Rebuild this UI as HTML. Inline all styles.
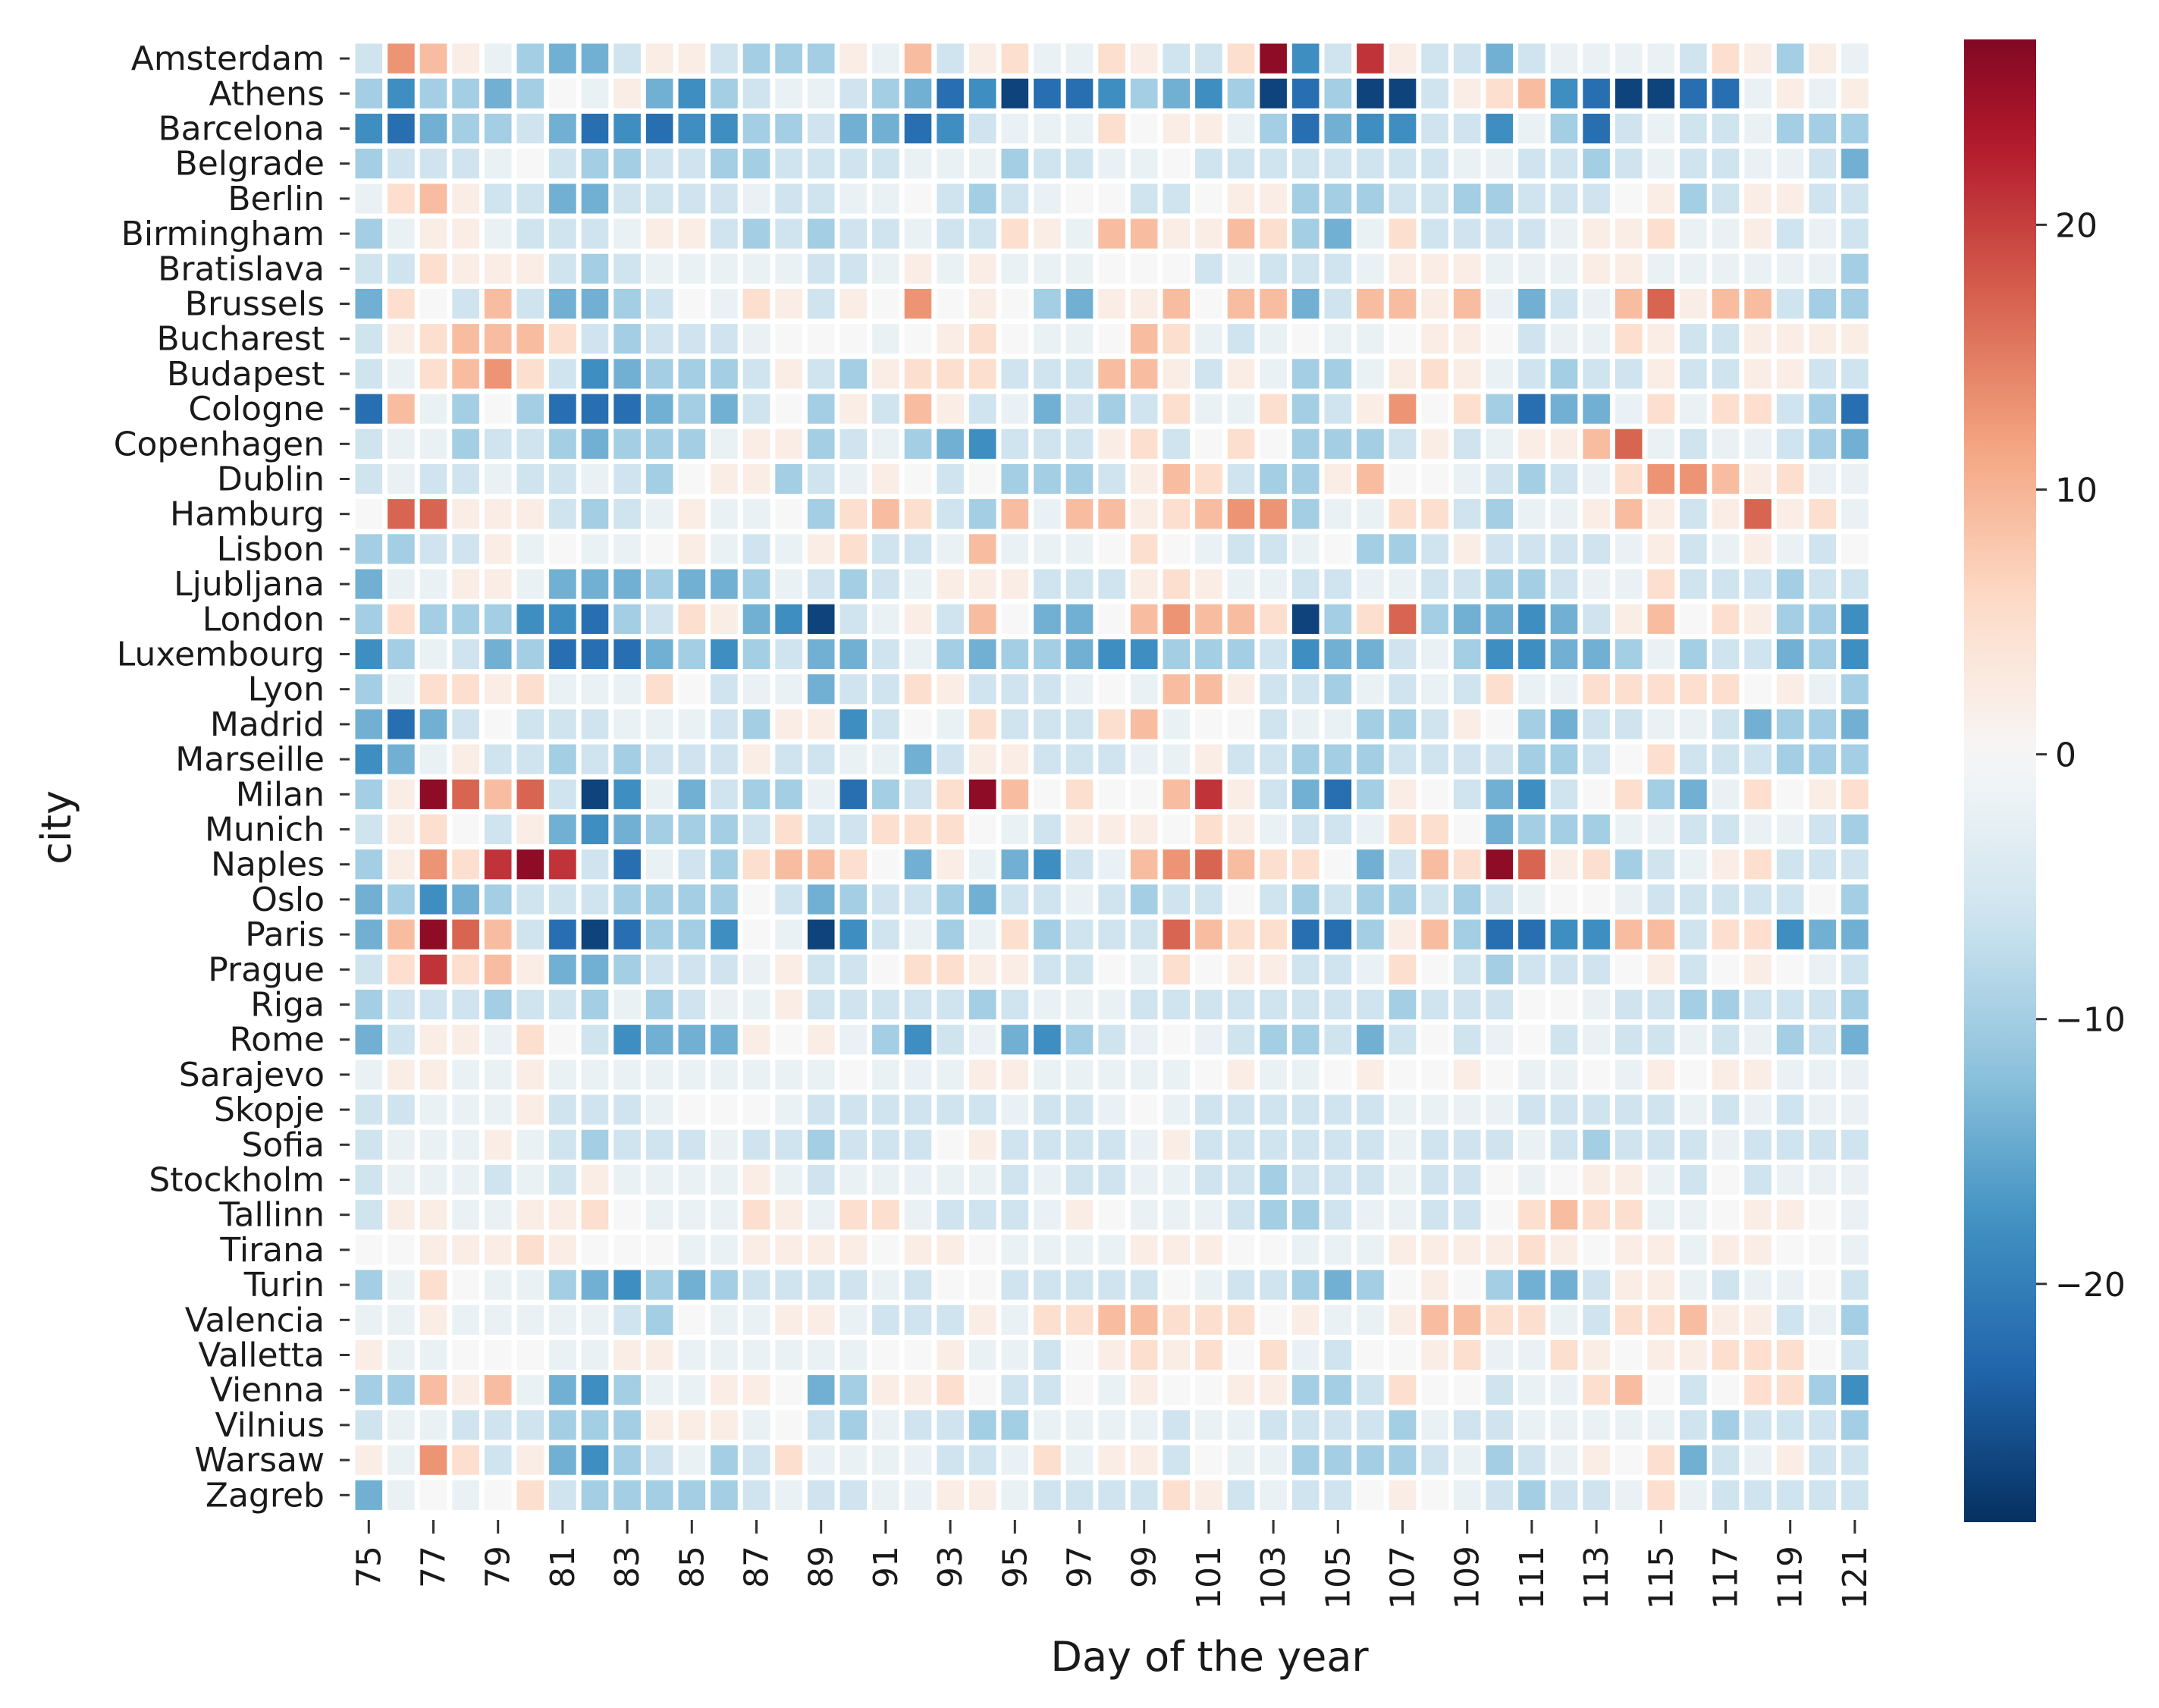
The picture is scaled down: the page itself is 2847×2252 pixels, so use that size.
<!DOCTYPE html>
<html><head><meta charset="utf-8"><title>City heatmap</title>
<style>
html,body{margin:0;padding:0;background:#fff;}
svg{display:block;font-family:"DejaVu Sans","Liberation Sans",sans-serif;}
</style></head>
<body>
<svg id="chart" width="2847" height="2252" viewBox="0 0 2847 2252" xmlns="http://www.w3.org/2000/svg">
<defs><linearGradient id="cbgrad" x1="0" y1="1" x2="0" y2="0"></linearGradient></defs>
<g id="cells"></g>
<g id="ylabels"></g>
<g id="xlabels"></g>
<text x="1595" y="2203" font-size="54" text-anchor="middle" fill="#1a1a1a">Day of the year</text>
<text transform="translate(93,1091) rotate(-90)" font-size="54" text-anchor="middle" fill="#1a1a1a">city</text>
<g id="colorbar"></g>
</svg>
<script>
const cities = ["Amsterdam","Athens","Barcelona","Belgrade","Berlin","Birmingham","Bratislava","Brussels","Bucharest","Budapest","Cologne","Copenhagen","Dublin","Hamburg","Lisbon","Ljubljana","London","Luxembourg","Lyon","Madrid","Marseille","Milan","Munich","Naples","Oslo","Paris","Prague","Riga","Rome","Sarajevo","Skopje","Sofia","Stockholm","Tallinn","Tirana","Turin","Valencia","Valletta","Vienna","Vilnius","Warsaw","Zagreb"];
const dayStart = 75;
const dayCount = 47;
const xTickLabels = ["75","77","79","81","83","85","87","89","91","93","95","97","99","101","103","105","107","109","111","113","115","117","119","121"];
const cbTicks = [20,10,0,-10,-20];
const cbMin = -29, cbMax = 27;
const values = [
[-6,13,9,2,-2,-10,-14,-14,-6,2,2,-6,-10,-10,-10,2,-2,9,-6,2,5,-2,-2,5,2,-6,-6,5,26,-18,-6,21,2,-6,-6,-14,-6,-2,-2,-2,-2,-6,5,2,-10,2,-2],
[-10,-18,-10,-10,-14,-10,0,-2,2,-14,-18,-10,-6,-2,-2,-6,-10,-14,-22,-18,-27,-22,-22,-18,-10,-14,-18,-10,-27,-22,-10,-27,-27,-6,2,5,9,-18,-22,-27,-27,-22,-22,-2,2,-2,2],
[-18,-22,-14,-10,-10,-6,-14,-22,-18,-22,-18,-18,-10,-10,-6,-14,-14,-22,-18,-6,-2,-2,-2,5,0,2,2,-2,-10,-22,-14,-18,-18,-6,-6,-18,-2,-10,-22,-6,-2,-6,-6,-2,-10,-10,-10],
[-10,-6,-6,-6,-2,0,-6,-10,-10,-6,-6,-10,-10,-6,-6,-6,-6,-2,-2,-2,-10,-6,-6,-2,-2,0,-6,-6,-6,-6,-6,-6,-6,-6,-2,-2,-6,-6,-10,-6,-2,-6,-6,-2,-2,-6,-14],
[-2,5,9,2,-6,-6,-14,-14,-6,-6,-6,-6,-2,-6,-6,-2,-2,0,-6,-10,-6,-2,0,0,-6,-6,0,2,2,-10,-10,-10,-6,-6,-10,-10,-6,-6,-6,0,2,-10,-6,2,2,-6,-6],
[-10,-2,2,2,-2,-6,-6,-6,-2,2,2,-6,-10,-6,-10,-6,-6,-2,-6,-6,5,2,-2,9,9,2,2,9,5,-10,-14,-2,5,-6,-6,-6,-6,-2,2,2,5,-2,-2,2,-6,-2,-6],
[-6,-6,5,2,2,2,-6,-10,-6,-2,-2,-2,-2,-2,-6,-6,-2,2,-2,2,-2,-2,-2,0,0,0,-6,-2,-6,-6,-6,-2,2,2,2,-2,-2,-2,2,2,-2,-2,-2,-2,-2,-2,-10],
[-14,5,0,-6,9,-6,-14,-14,-10,-6,0,-2,5,2,-6,2,0,13,0,2,0,-10,-14,2,2,9,0,9,9,-14,-6,9,9,2,9,-2,-14,-6,-2,9,17,2,9,9,-6,-10,-10],
[-6,2,5,9,9,9,5,-6,-10,-6,-6,-6,-2,0,0,0,-2,0,2,5,0,-2,-2,0,9,5,-2,-6,-2,0,-2,-2,0,2,2,0,-6,-2,-2,5,2,-6,-6,2,2,2,2],
[-6,-2,5,9,13,5,-6,-18,-14,-10,-10,-10,-6,2,-6,-10,2,5,5,5,-6,-6,-6,9,9,2,-6,2,-2,-10,-10,-2,2,5,2,-2,-6,-10,-6,-6,2,-6,-6,2,2,-6,-6],
[-22,9,-2,-10,0,-10,-22,-22,-22,-14,-10,-14,-6,0,-10,2,-6,9,2,-6,-2,-14,-6,-10,-6,5,-2,-2,5,-10,-6,2,13,0,5,-10,-22,-14,-14,-2,5,-2,5,5,-6,-10,-22],
[-6,-2,-2,-10,-6,-6,-10,-14,-10,-10,-10,-2,2,2,-10,-6,-2,-10,-14,-18,-6,-6,-6,2,5,-6,0,5,0,-10,-10,-10,-6,2,-6,-2,2,2,9,17,-2,-6,-2,-2,-6,-10,-14],
[-6,-2,-6,-6,-2,-6,-6,-2,-6,-10,0,2,2,-10,-6,-2,2,0,-6,0,-10,-10,-10,-6,2,9,5,-6,-10,-10,2,9,0,0,-2,-6,-10,-6,-2,5,13,13,9,2,5,-2,-2],
[0,17,17,2,2,2,-6,-10,-6,-2,2,-2,-2,0,-10,5,9,5,-6,-10,9,-2,9,9,2,5,9,13,13,-10,-2,-2,5,5,-6,-10,-2,-2,2,9,2,-6,2,17,2,5,-2],
[-10,-10,-6,-6,2,-2,0,-2,-2,0,2,-2,-6,-2,2,5,-6,-6,-2,9,-2,-2,-2,0,5,0,-2,-6,-6,-2,0,-10,-10,-6,2,-6,-6,-6,-6,-2,2,-6,-2,2,-2,-6,0],
[-14,-2,-2,2,2,-2,-14,-14,-14,-10,-14,-14,-10,-2,-6,-10,-6,-2,2,2,2,-6,-6,-6,2,5,2,-2,-2,-6,-6,-2,-2,-6,-6,-10,-10,-6,-2,-2,5,-6,-6,-6,-10,-6,-6],
[-10,5,-10,-10,-10,-18,-18,-22,-10,-6,5,2,-14,-18,-27,-6,-2,2,-6,9,0,-14,-14,0,9,13,9,9,5,-27,-10,5,17,-10,-14,-14,-18,-14,-6,2,9,0,5,2,-10,-10,-18],
[-18,-10,-2,-6,-14,-10,-22,-22,-22,-14,-10,-18,-10,-6,-14,-14,-6,-2,-10,-14,-10,-10,-14,-18,-18,-10,-10,-10,-6,-18,-14,-14,-6,-2,-10,-18,-18,-14,-14,-10,-2,-10,-6,-6,-14,-10,-18],
[-10,-2,5,5,2,5,-2,-2,-2,5,0,-6,-2,-2,-14,-6,-6,5,2,-6,-6,-6,-2,0,-2,9,9,2,-6,-6,-10,-2,-6,-2,-6,5,-2,-2,5,5,5,5,5,0,2,-2,-10],
[-14,-22,-14,-6,0,-6,-6,-6,-2,-2,-2,-6,-10,2,2,-18,-6,0,-2,5,-6,-6,-6,5,9,-2,0,0,-6,-2,-2,-10,-10,-6,2,0,-10,-14,-6,-6,-2,-2,-6,-14,-10,-10,-14],
[-18,-14,-2,2,-6,-6,-10,-6,-10,-6,-6,-6,2,-6,-6,-2,-2,-14,-6,2,2,-6,-6,-6,-2,-2,2,-6,-6,-10,-10,-10,-6,-6,-6,-6,-10,-10,-6,0,5,-6,-6,-6,-10,-10,-10],
[-10,2,26,17,9,17,-6,-27,-18,-2,-14,-6,-10,-10,-2,-22,-10,-6,5,26,9,0,5,0,0,9,21,2,-6,-14,-22,-10,2,0,-6,-14,-18,-6,0,5,-10,-14,-2,5,0,2,5],
[-6,2,5,0,-6,2,-14,-18,-14,-10,-10,-10,-6,5,-6,-6,5,5,5,0,-2,-6,2,2,2,0,5,2,-2,-6,-6,-2,5,5,0,-14,-10,-10,-10,-2,-2,-6,-6,-2,-2,-6,-10],
[-10,2,13,5,21,26,21,-6,-22,-2,-6,-10,5,9,9,5,0,-14,2,-2,-14,-18,-6,-2,9,13,17,9,5,5,0,-14,-6,9,5,26,17,2,5,-10,-6,-2,2,5,-6,-6,-6],
[-14,-10,-18,-14,-10,-6,-6,-6,-10,-10,-10,-10,0,-6,-14,-10,-6,-6,-10,-14,-6,-6,-2,-6,-10,-6,-6,0,-6,-10,-6,-10,-10,-6,-10,-6,-2,0,0,-2,-6,-6,-6,-6,-6,0,-10],
[-14,9,26,17,9,-6,-22,-27,-22,-10,-10,-18,0,-2,-27,-18,-6,-2,-10,-2,5,-10,-6,-6,-6,17,9,5,5,-22,-22,-10,2,9,-10,-22,-22,-18,-18,9,9,-6,5,5,-18,-14,-14],
[-6,5,21,5,9,2,-14,-14,-10,-6,-6,-6,-2,2,-6,-6,0,5,5,2,2,-6,-6,0,-2,5,0,2,2,-6,-6,-2,5,0,-6,-10,-6,-6,-6,0,2,-6,0,2,0,-2,-6],
[-10,-6,-6,-6,-10,-6,-6,-10,-2,-10,-6,-2,-2,2,-6,-6,-6,-6,-6,-10,-6,-2,-2,-2,-6,-6,-6,-6,-6,-6,-6,-6,-10,-6,-6,-6,0,0,-2,-6,-6,-10,-10,-6,-6,-6,-10],
[-14,-6,2,2,-2,5,0,-6,-18,-14,-14,-14,2,0,2,-2,-10,-18,-6,-2,-14,-18,-10,-6,-2,0,-2,-6,-10,-10,-6,-14,-6,0,-6,-2,0,-6,-2,-6,-6,-2,-6,-2,-10,-6,-14],
[-2,2,2,-2,-2,2,-2,-2,-2,-2,-2,-2,-2,-2,-2,0,-2,-2,-2,2,2,-2,-2,-2,-2,-2,0,2,-2,-2,0,2,0,0,2,0,-2,-2,0,-2,2,0,2,2,-2,-2,-2],
[-6,-6,-2,-2,-2,2,-6,-6,-6,-2,0,0,0,-2,-6,-6,-6,-6,-6,-6,-2,-6,-6,-2,0,-2,-6,-6,-6,-6,-6,-6,-2,-2,-2,-2,-6,-6,-6,-6,-6,-2,-6,-2,-6,-2,-2],
[-6,-2,-2,-2,2,-2,-6,-10,-6,-6,-6,-2,-6,-6,-10,-6,-6,-6,0,2,-6,-6,-6,-6,-2,2,-6,-6,-6,-6,-6,-6,-2,-6,-6,-6,-2,-6,-10,-6,-6,-6,-2,-6,-6,-6,-6],
[-6,-2,-2,-2,-6,-2,-6,2,-2,-2,-2,-2,2,-2,-6,-2,-2,-2,-2,-2,-6,-2,-6,-6,-2,-2,-6,-6,-10,-6,-6,-6,-2,-6,-6,0,-2,0,2,2,-2,-6,0,-6,-2,-2,-2],
[-6,2,2,-2,-2,2,2,5,0,-2,-2,-2,5,2,-2,5,5,-2,-6,-6,-6,-2,2,0,-2,-2,-2,-6,-10,-10,-6,-2,-2,-6,-6,0,5,9,5,5,-2,-2,0,2,2,0,-2],
[0,0,2,2,2,5,2,0,0,0,-2,-2,2,2,2,2,0,2,2,0,-2,-2,-2,-2,2,2,2,0,0,-2,-2,-2,2,2,2,2,5,2,0,2,2,-2,2,2,0,0,-2],
[-10,-2,5,0,-2,-2,-10,-14,-18,-10,-14,-10,-6,-6,-6,-6,-2,-6,0,0,-6,-6,-6,-6,-6,0,-2,-6,-6,-10,-14,-10,0,2,0,-10,-14,-14,-6,2,2,-2,-6,-2,-2,0,-6],
[-2,-2,2,-2,-2,-2,-2,-2,-6,-10,0,-2,-2,2,2,-2,-6,-6,-6,2,-2,5,5,9,9,5,5,5,0,2,-2,-2,2,9,9,5,5,-2,-6,5,5,9,2,2,-6,-2,-10],
[2,-2,-2,0,0,0,-2,-2,2,2,-2,-2,-2,-2,-2,-2,0,0,2,-2,-2,-6,0,2,5,2,5,0,5,-2,-6,0,0,2,5,-2,-2,5,2,0,2,2,5,5,5,0,-6],
[-10,-10,9,2,9,-2,-14,-18,-10,-2,-2,2,2,0,-14,-10,2,2,5,0,-6,-6,0,-2,2,0,0,2,2,-10,-10,-6,5,0,0,-6,-2,-2,5,9,0,-6,0,5,5,-10,-18],
[-6,-2,-2,-6,-6,-6,-10,-10,-10,2,2,2,-2,0,-6,-10,-2,-6,-6,-10,-10,-2,-2,-2,-2,-6,-2,-2,-6,-6,-6,-6,-10,-2,-6,-6,-2,-2,-2,-2,-2,-6,-10,-6,-6,-6,-10],
[2,-2,13,5,-6,2,-14,-18,-10,-6,-2,-10,-6,5,-2,-2,-2,-2,-6,-6,-2,5,-2,2,2,-6,0,-2,-2,-10,-10,-10,-10,-6,-2,-10,-6,-2,2,0,5,-14,-6,-2,2,-6,-6],
[-14,-2,0,-2,0,5,-6,-10,-10,-10,-10,-10,-6,-2,-6,-6,-2,-2,2,2,-2,-6,-6,-6,-6,5,2,-6,-2,-6,-6,0,2,0,-2,-6,-10,-6,-6,-2,5,-2,-6,-6,-6,-6,-6]
];

const NS = "http://www.w3.org/2000/svg";
const X0 = 465, PW = 42.6, Y0 = 54, PH = 46.2, GAP = 7;
const CBX = 2590, CBW = 95, CBTOP = 52, CBBOT = 2007;
const keys = ["#053061","#2166ac","#4393c3","#92c5de","#d1e5f0","#f7f7f7","#fddbc7","#f4a582","#d6604d","#b2182b","#67001f"];
function hex(c){return [parseInt(c.slice(1,3),16),parseInt(c.slice(3,5),16),parseInt(c.slice(5,7),16)];}
function cmap(t){
  t=Math.max(0,Math.min(1,t));
  const p=t*10, i=Math.min(9,Math.floor(p)), f=p-i;
  const a=hex(keys[i]), b=hex(keys[i+1]);
  return "rgb("+a.map((v,k)=>Math.round(v+(b[k]-v)*f)).join(",")+")";
}
const vr = Math.max(cbMax, -cbMin);
function colorOf(v){return cmap(0.5+v/(2*vr));}
function xScale(i){return X0+i*PW;}
function yScale(r){return Y0+r*PH;}
function cbY(v){return CBBOT-(v-cbMin)/(cbMax-cbMin)*(CBBOT-CBTOP);}
function mk(tag, attrs){const e=document.createElementNS(NS,tag);for(const k in attrs)e.setAttribute(k,attrs[k]);return e;}

const cellsG=document.getElementById("cells");
values.forEach((row,r)=>{
  row.forEach((v,c)=>{
    const rect=mk("rect",{x:xScale(c)+GAP/2,y:yScale(r)+GAP/2,width:PW-GAP,height:PH-GAP,fill:colorOf(v)});
    
    
    cellsG.appendChild(rect);
  });
});

const yl=document.getElementById("ylabels");
cities.forEach((name,r)=>{
  const cy=yScale(r)+PH/2;
  const tk=mk("line",{x1:448,x2:461,y1:cy,y2:cy,stroke:"#333","stroke-width":3});
  
  
  yl.appendChild(tk);
  const t=mk("text",{x:428,y:cy+15,"font-size":44,"text-anchor":"end",fill:"#1a1a1a"});
  
  
  t.textContent=name;
  yl.appendChild(t);
});

const xl=document.getElementById("xlabels");
xTickLabels.forEach(lbl=>{
  const c=parseInt(lbl,10)-dayStart;
  const cx=xScale(c)+PW/2;
  const tk=mk("line",{x1:cx,x2:cx,y1:2004,y2:2022,stroke:"#333","stroke-width":3});
  
  
  xl.appendChild(tk);
  const t=mk("text",{transform:"translate("+(cx+15)+",2038) rotate(-90)","font-size":44,"text-anchor":"end",fill:"#1a1a1a"});
  
  
  t.textContent=lbl;
  xl.appendChild(t);
});

const grad=document.getElementById("cbgrad");
for(let k=0;k<=40;k++){
  const v=cbMin+(cbMax-cbMin)*k/40;
  const s=mk("stop",{offset:(k/40*100)+"%","stop-color":colorOf(v)});
  grad.appendChild(s);
}
const cb=document.getElementById("colorbar");
const bar=mk("rect",{x:CBX,y:CBTOP,width:CBW,height:CBBOT-CBTOP,fill:"url(#cbgrad)"});


cb.appendChild(bar);
cbTicks.forEach(v=>{
  const y=cbY(v);
  const tk=mk("line",{x1:CBX+CBW,x2:CBX+CBW+14,y1:y,y2:y,stroke:"#333","stroke-width":3});
  
  
  cb.appendChild(tk);
  const t=mk("text",{x:CBX+CBW+25,y:y+16,"font-size":44,fill:"#1a1a1a"});
  
  
  t.textContent=(v<0?"\u2212"+(-v):String(v));
  cb.appendChild(t);
});
</script>
</body></html>
